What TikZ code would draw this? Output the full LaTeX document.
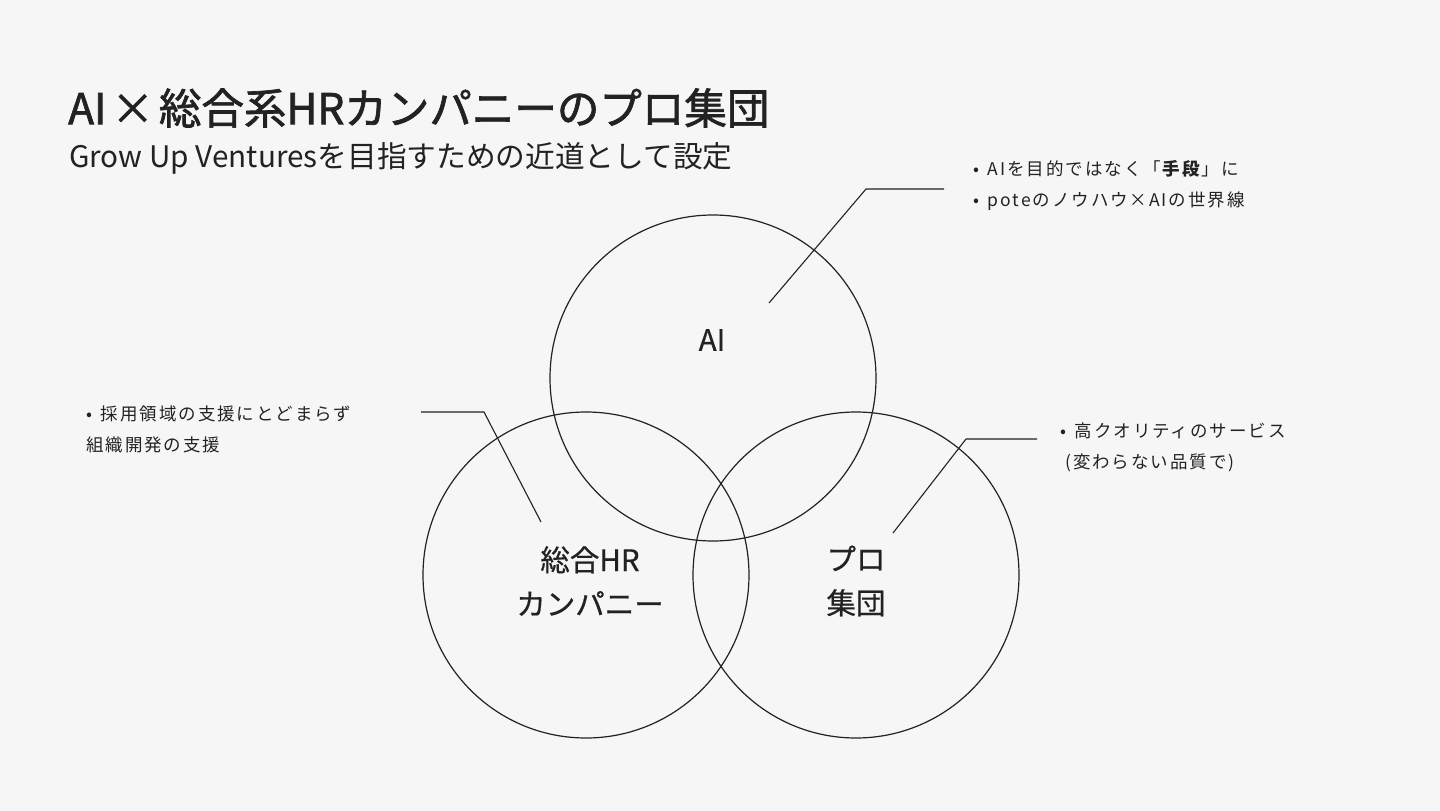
\documentclass[tikz,border=0pt]{standalone}
\usepackage{fontspec}
\setmainfont{Noto Sans CJK JP}
\newfontfamily\headfont[FakeBold=1.6]{Noto Sans CJK JP}
\newfontfamily\labelfont[FakeBold=0.6]{Noto Sans CJK JP}
\newfontfamily\notefont[LetterSpace=11]{Noto Sans CJK JP}
\definecolor{bgcol}{HTML}{F6F6F6}
\definecolor{inkcol}{HTML}{222222}
\tikzset{
  ring/.style={circle, draw=inkcol, line width=1.2pt, minimum size=326pt, inner sep=0pt},
  lead/.style={draw=inkcol, line width=1.1pt},
  ringlabel/.style={text=inkcol, font=\labelfont\fontsize{29.5}{44}\selectfont, align=center},
  note/.style={text=inkcol, font=\notefont\fontsize{17.5}{31}\selectfont, align=left, anchor=west, inner sep=0pt}
}
\begin{document}
\begin{tikzpicture}[x=1pt,y=-1pt]
\fill[bgcol] (0,0) rectangle (1440,811);
\useasboundingbox (0,0) rectangle (1440,811);
% titles
\node[anchor=west, inner sep=0pt, text=inkcol, font=\headfont\fontsize{42.5}{50}\selectfont] (title) at (68,108) {AI\kern5pt×\kern5pt総合系HRカンパニーのプロ集団};
\node[anchor=west, inner sep=0pt, text=inkcol, font=\fontsize{29.7}{34}\selectfont] (subtitle) at (69,158) {Grow Up Venturesを目指すための近道として設定};
% circles
\node[ring] (ai) at (713,378) {};
\node[ring] (hr) at (586,575) {};
\node[ring] (pro) at (856,575) {};
\node[ringlabel] (ailabel) at (712,340) {AI};
\node[ringlabel] (hrlabel) at (590,581) {総合HR\\カンパニー};
\node[ringlabel] (prolabel) at (856,581) {プロ\\集団};
% notes
\node[note] (ainote) at (973,185) {•\hspace{0.5em}AIを目的ではなく「\textbf{手段}」に\\•\hspace{0.5em}poteのノウハウ×AIの世界線};
\node[note] (hrnote) at (86,429) {•\hspace{0.5em}採用領域の支援にとどまらず\\組織開発の支援};
\node[note] (pronote) at (1060,447) {•\hspace{0.5em}高クオリティのサービス\\\kern5pt(変わらない品質で)};
% leaders
\coordinate (aiend) at (769,303);
\coordinate (aibend) at (866,189);
\coordinate (aitip) at (944,189);
\coordinate (hrend) at (541,522);
\coordinate (hrbend) at (484,412);
\coordinate (hrtip) at (421,412);
\coordinate (proend) at (893,533);
\coordinate (probend) at (966,439);
\coordinate (protip) at (1037,439);
\draw[lead] (aiend) -- (aibend) -- (aitip);
\draw[lead] (hrend) -- (hrbend) -- (hrtip);
\draw[lead] (proend) -- (probend) -- (protip);
\end{tikzpicture}
\end{document}
